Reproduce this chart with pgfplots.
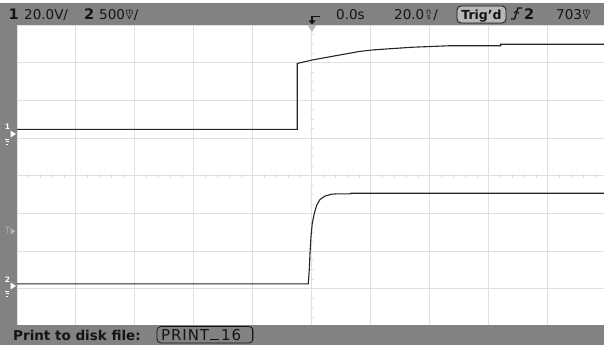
\documentclass[border=0pt]{standalone}
\usepackage{pgfplots}
\pgfplotsset{compat=1.18}
\usepackage{fontspec}
\setmainfont{DejaVu Sans}
\newfontfamily\prf{DejaVu Sans}[LetterSpace=6]
\usetikzlibrary{arrows.meta}
\definecolor{barg}{HTML}{828282}
\definecolor{gridg}{HTML}{E0E0E0}
\definecolor{trace}{HTML}{262626}
\definecolor{txt}{HTML}{141414}
\definecolor{trigfill}{HTML}{B8B8B8}
\newcommand\stk[2]{\makebox[9pt]{\makebox[0pt]{\raisebox{5.6pt}{\fontsize{8}{8}\selectfont #1}}\makebox[0pt]{\fontsize{7.5}{7.5}\selectfont #2}}}
\begin{document}
\begin{tikzpicture}[x=1pt,y=1pt]
\fill[white] (0,0) rectangle (604,345);
\begin{axis}[at={(17pt,18.5pt)}, anchor=south west, scale only axis,
  width=587pt, height=301.5pt,
  xmin=-5, xmax=4.95, ymin=-4, ymax=4,
  axis lines=center, axis line style={gridg, line width=1pt, -},
  xtick={-5,...,5}, ytick={-4,...,4}, xticklabels={}, yticklabels={},
  minor x tick num=4, minor y tick num=3,
  tick align=center, major tick length=4pt, minor tick length=4pt,
  tick style={gridg, line width=1pt},
  grid=major, major grid style={gridg, line width=1pt},
  ]
\addplot[trace, line width=1.1pt] coordinates {(-5,1.23) (-0.25,1.23) (-0.25,2.98) (0,3.07) (0.42,3.19) (0.81,3.30) (1.04,3.34) (1.32,3.37) (1.7,3.41) (2.34,3.45) (3.2,3.45) (3.2,3.49) (4.95,3.49)};
\addplot[trace, line width=1.1pt] coordinates {(-5,-2.87) (-0.063,-2.87) (-0.046,-2.50) (-0.034,-2.06) (-0.017,-1.62) (0.005,-1.26) (0.039,-1.00) (0.08,-0.78) (0.136,-0.63) (0.22,-0.54) (0.33,-0.49) (0.42,-0.48) (0.65,-0.48) (0.66,-0.465) (4.95,-0.465)};
\end{axis}
% frame bars
\fill[barg] (0,0) rectangle (604,20);
\fill[barg] (0,0) rectangle (17,342);
\fill[barg] (0,320) rectangle (604,342);
% trigger position marker
\fill[black!28] (307.5,320) -- (316.5,320) -- (312,313) -- cycle;
% top text
\begin{scope}[every node/.style={anchor=base west, inner sep=0pt, text=txt, font=\fontsize{13.5}{14}\selectfont}]
\node[font=\fontsize{14.5}{15}\selectfont\bfseries] at (8.5,325) {1};
\node at (24,325) {20.0V/};
\node[font=\fontsize{14.5}{15}\selectfont\bfseries] at (84,325) {2};
\node at (99,325) {500\stk{m}{V}/};
\node at (336,325) {0.0s};
\node at (394,325) {20.0\stk{n}{s}/};
\node at (556,325) {703\stk{m}{V}};
\node[font=\fontsize{14.5}{15}\selectfont\bfseries] at (524,325) {2};
\node[font=\fontsize{13.5}{14}\selectfont\bfseries] at (13,5) {Print to disk file:};
\end{scope}
% trigger arrow
\draw[txt, line width=1.2pt] (320,328.5) -- (312,328.5) -- (312,324);
\fill[txt] (308.5,324.5) -- (315.5,324.5) -- (312,320.5) -- cycle;
% Trig'd box
\draw[txt, line width=0.8pt, fill=trigfill, rounded corners=4pt] (457,322) rectangle (506,339);
\node[anchor=base, inner sep=0pt, text=txt, font=\fontsize{12.5}{13}\selectfont\bfseries] at (481.5,325.5) {Trig'd};
% edge symbol
\draw[txt, line width=1.3pt] (511,326) -- (514.5,326) -- (518,337) -- (522,337);
\draw[txt, line width=1pt] (514,332) -- (516.5,334) -- (519,331.5);
% PRINT box
\draw[txt, line width=0.8pt, rounded corners=4pt] (157,2) rectangle (253,18.5);
\draw[txt, line width=1.6pt] (252.5,4) -- (252.5,17);
\node[anchor=base west, inner sep=0pt, text=txt, font=\prf\fontsize{15}{15}\selectfont] at (161,5) {PRINT\hspace{1pt}\rule{9pt}{1.1pt}\hspace{2pt}16};
% left channel markers
\node[anchor=base, inner sep=0pt, text=white, font=\fontsize{7.5}{8}\selectfont\bfseries] at (7.5,215) {1};
\fill[white] (10.5,207.5) -- (10.5,214.5) -- (16,211) -- cycle;
\draw[white, line width=0.6pt] (5,206) -- (9,206) (5.5,203.5) -- (8.5,203.5) (6,201) -- (8,201);
\node[anchor=base, inner sep=0pt, text=black!30, font=\fontsize{8.5}{9}\selectfont] at (7.5,111) {T};
\fill[black!30] (10.5,110.5) -- (10.5,117) -- (15.5,113.75) -- cycle;
\node[anchor=base, inner sep=0pt, text=white, font=\fontsize{7.5}{8}\selectfont\bfseries] at (7.5,63) {2};
\fill[white] (10.5,55.5) -- (10.5,62.5) -- (16,59) -- cycle;
\draw[white, line width=0.6pt] (5,54) -- (9,54) (5.5,51.5) -- (8.5,51.5) (6,49) -- (8,49);
\pgfresetboundingbox
\path[use as bounding box] (0,0) rectangle (604,345);
\end{tikzpicture}
\end{document}
